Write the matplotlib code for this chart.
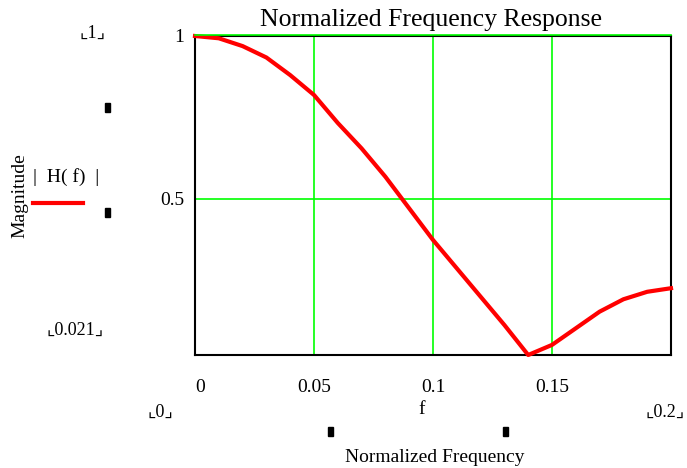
import matplotlib.pyplot as plt
from matplotlib.patches import Rectangle
from matplotlib.lines import Line2D

# normalized frequency and |H(f)|
freq = [0.00, 0.01, 0.02, 0.03, 0.04, 0.05, 0.06, 0.07, 0.08, 0.09, 0.10,
        0.11, 0.12, 0.13, 0.14, 0.15, 0.16, 0.17, 0.18, 0.19, 0.20]
mag = [1.000, 0.993, 0.969, 0.934, 0.880, 0.819, 0.733, 0.655, 0.568, 0.471, 0.374,
       0.287, 0.200, 0.113, 0.021, 0.052, 0.103, 0.154, 0.192, 0.215, 0.226]

x_ticks = [0, 0.05, 0.1, 0.15]
x_labels = ['0', '0.05', '0.1', '0.15']
y_ticks = [0.5, 1]
y_labels = ['0.5', '1']
x_min, x_max = 0, 0.2
y_min, y_max = 0.021, 1

W, H = 687, 468
plt.rcParams['font.family'] = ['Liberation Serif', 'DejaVu Sans']

fig = plt.figure(figsize=(W / 100, H / 100), dpi=100)


def px(x, y):
    return x / W, 1 - y / H


ax = fig.add_axes([195 / W, 1 - 355 / H, 476 / W, 319 / H])
ax.plot(freq, mag, color='#ff0000', lw=3, solid_joinstyle='round', zorder=3, clip_on=False)
ax.set_xlim(x_min, x_max)
ax.set_ylim(y_min, y_max)
ax.set_xticks(x_ticks)
ax.set_xticklabels(x_labels, fontsize=14)
ax.set_yticks(y_ticks)
ax.set_yticklabels(y_labels, fontsize=14)
ax.get_xticklabels()[0].set_ha('left')
ax.tick_params(axis='x', length=0, pad=17)
ax.tick_params(axis='y', length=0, pad=8)
ax.grid(True, color='#00ff00', lw=1.2)
ax.set_axisbelow(True)
for s in ax.spines.values():
    s.set_linewidth(1.5)
    s.set_color('black')
# top grid line sits just above the frame in the reference
fig.add_artist(Line2D([195 / W, 671 / W], [1 - 34.5 / H, 1 - 34.5 / H],
                      color='#00ff00', lw=1.2, transform=fig.transFigure))

fig.text(*px(431, 20), 'Normalized Frequency Response', fontsize=18.5, ha='center', va='center')

# Mathcad-style axis limit placeholders
fig.text(*px(93, 33), '⌞1⌟', fontsize=13, ha='center', va='center')
fig.text(*px(75, 330), '⌞0.021⌟', fontsize=13, ha='center', va='center')
fig.text(*px(160, 412), '⌞0⌟', fontsize=13, ha='center', va='center')
fig.text(*px(665, 412), '⌞0.2⌟', fontsize=13, ha='center', va='center')
fig.text(*px(422, 410), 'f', fontsize=14, ha='center', va='center')
fig.text(*px(435, 457), 'Normalized Frequency', fontsize=14, ha='center', va='center')
fig.text(*px(20, 196), 'Magnitude', fontsize=14, ha='center', va='center', rotation=90)
fig.text(*px(66, 177), '|  H( f)  |', fontsize=14, ha='center', va='center')
fig.add_artist(Line2D([33 / W, 83 / W], [1 - 203 / H, 1 - 203 / H],
                      color='#ff0000', lw=3, transform=fig.transFigure))

for mx, my in [(107, 108), (107, 213), (330, 432), (505, 432)]:
    fig.add_artist(Rectangle(((mx - 2) / W, 1 - (my + 4) / H), 5 / W, 9 / H,
                             color='black', transform=fig.transFigure))

fig.savefig('out.png', dpi=100)
